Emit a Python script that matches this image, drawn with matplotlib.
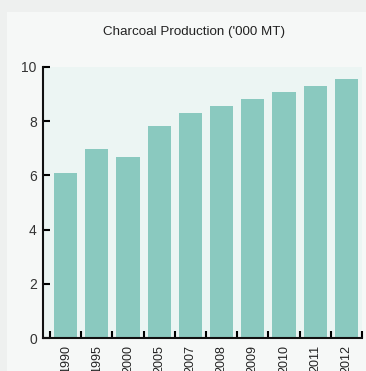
import matplotlib.pyplot as plt
import numpy as np
from matplotlib.patches import Rectangle

plt.rcParams['font.family'] = ['Liberation Sans', 'DejaVu Sans']

# 연도별 목탄 생산량
years = ["1990", "1995", "2000", "2005", "2007", "2008", "2009", "2010", "2011", "2012"]
production = [6.08, 6.97, 6.67, 7.82, 8.3, 8.55, 8.81, 9.07, 9.29, 9.55]
y_ticks = [0, 2, 4, 6, 8, 10]

W, H = 366, 371
fig = plt.figure(figsize=(W / 100, H / 100), dpi=100)
fig.patch.set_facecolor('#eef0ef')
fig.patches.append(Rectangle((7 / W, 0), 1, 1 - 12 / H, transform=fig.transFigure,
                             facecolor='#f6f8f7', edgecolor='none', zorder=-5))

ax = fig.add_axes([43 / W, 1 - 338 / H, (362 - 43) / W, (338 - 67) / H])
ax.set_zorder(2)
ax.set_facecolor('#ecf5f3')

x = np.arange(len(years))
ax.bar(x, production, width=0.74, color='#8ac9bf', zorder=2)

ax.set_xlim(-0.5 - 7 / 31.2, len(years) - 0.5)
ax.set_ylim(0, 10)

for s in ['top', 'right']:
    ax.spines[s].set_visible(False)
for s in ['left', 'bottom']:
    ax.spines[s].set_linewidth(1.5)
    ax.spines[s].set_color('#111111')

ax.set_yticks(y_ticks)
ax.tick_params(axis='y', direction='in', length=5, width=1.5, labelsize=10,
               labelcolor='#333333', pad=4.5)

# 막대 경계에 눈금, 가운데에 라벨
ax.set_xticks(np.arange(len(years) + 1) - 0.5)
ax.set_xticklabels([])
ax.tick_params(axis='x', which='major', direction='in', length=5, width=1.5)
ax.set_xticks(x, minor=True)
ax.set_xticklabels(years, minor=True, rotation=90, fontsize=9, color='#222222')
ax.tick_params(axis='x', which='minor', length=0, pad=5)

fig.text(194 / W, 1 - 32 / H, "Charcoal Production ('000 MT)",
         ha='center', va='center', fontsize=9.6, color='#222222')

fig.savefig('out.png', dpi=100, facecolor=fig.get_facecolor())
